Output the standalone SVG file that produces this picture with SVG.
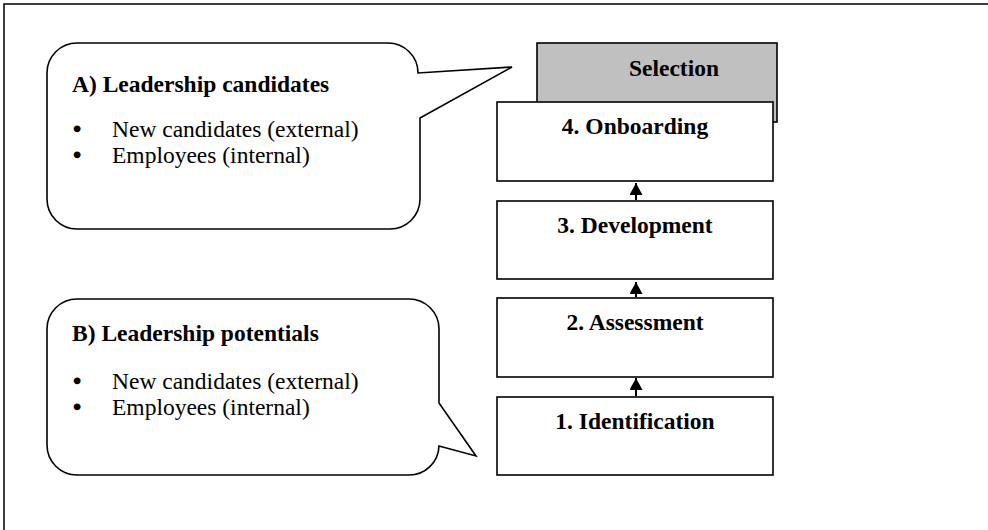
<svg xmlns="http://www.w3.org/2000/svg" width="988" height="530" viewBox="0 0 988 530">
<style>
.frame{fill:none;stroke:#000;stroke-width:1.5}
.callout{fill:#fff;stroke:#000;stroke-width:1.6}
.box{fill:#fff;stroke:#000;stroke-width:1.6}
.sel{fill:#c0c0c0;stroke:#000;stroke-width:1.6}
.h{font-family:"Liberation Serif","Times New Roman",serif;font-weight:bold;font-size:23.5px;fill:#000}
.t{font-family:"Liberation Serif","Times New Roman",serif;font-size:23.5px;fill:#000}
.b{font-family:"Liberation Serif","Times New Roman",serif;font-size:23.5px;fill:#000;stroke:#000;stroke-width:1.2}
.conn{stroke:#000;stroke-width:2;fill:none}
</style>
<defs>
<marker id="arr" markerUnits="userSpaceOnUse" viewBox="0 0 12 13" refX="12" refY="6.5" markerWidth="12" markerHeight="13" orient="auto">
<path d="M0,0 L12,6.5 L0,13 z" fill="#000"/>
</marker>
</defs>
<rect width="988" height="530" fill="#fff"/>
<path class="frame" d="M4,530 V4 H988"/>

<g id="calloutA">
<path class="callout" d="M77,43 H388 A30,30 0 0 1 418,73 L512,67 L420,118 V199 A30,30 0 0 1 390,229 H77 A30,30 0 0 1 47,199 V73 A30,30 0 0 1 77,43 Z"/>
<text class="h" x="72" y="92">A) Leadership candidates</text>
<text class="b" x="73" y="137">•</text>
<text class="t" x="112" y="137">New candidates (external)</text>
<text class="b" x="73" y="163">•</text>
<text class="t" x="112" y="163">Employees (internal)</text>
</g>

<g id="calloutB">
<path class="callout" d="M77,299 H409 A30,30 0 0 1 439,329 V403 L476,456 L439,446 A30,30 0 0 1 409,475 H77 A30,30 0 0 1 47,445 V329 A30,30 0 0 1 77,299 Z"/>
<text class="h" x="72" y="341">B) Leadership potentials</text>
<text class="b" x="73" y="389">•</text>
<text class="t" x="112" y="389">New candidates (external)</text>
<text class="b" x="73" y="415">•</text>
<text class="t" x="112" y="415">Employees (internal)</text>
</g>

<g id="selection">
<rect class="sel" x="537" y="43" width="240" height="79"/>
<text class="h" x="674" y="76" text-anchor="middle">Selection</text>
</g>

<g id="onboarding">
<rect class="box" x="497" y="102" width="276" height="79"/>
<text class="h" x="635" y="134" text-anchor="middle">4. Onboarding</text>
</g>

<g id="development">
<rect class="box" x="497" y="201" width="276" height="78"/>
<text class="h" x="635" y="233" text-anchor="middle">3. Development</text>
</g>

<g id="assessment">
<rect class="box" x="497" y="298" width="276" height="79"/>
<text class="h" x="635" y="330" text-anchor="middle">2. Assessment</text>
</g>

<g id="identification">
<rect class="box" x="497" y="397" width="276" height="78"/>
<text class="h" x="635" y="429" text-anchor="middle">1. Identification</text>
</g>

<g id="connectors">
<line class="conn" x1="636" y1="396" x2="636" y2="378" marker-end="url(#arr)"/>
<line class="conn" x1="636" y1="297" x2="636" y2="282" marker-end="url(#arr)"/>
<line class="conn" x1="636" y1="200" x2="636" y2="183" marker-end="url(#arr)"/>
</g>
</svg>
